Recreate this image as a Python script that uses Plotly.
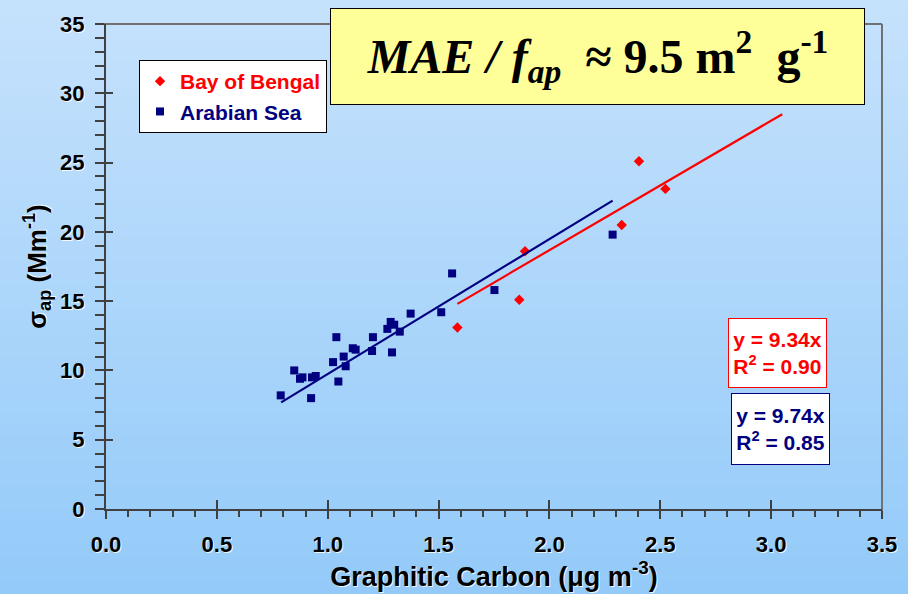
import plotly.graph_objects as go

# ---------------- data ----------------
bob_gc = [1.585, 1.864, 1.890, 2.326, 2.404, 2.523]
bob_sigma = [13.1, 15.1, 18.6, 20.5, 25.1, 23.1]

as_gc = [0.788, 0.849, 0.875, 0.886, 0.925, 0.929, 0.946, 1.024, 1.039, 1.048,
         1.072, 1.081, 1.113, 1.126, 1.200, 1.204, 1.269, 1.284, 1.300, 1.290,
         1.325, 1.374, 1.512, 1.561, 1.752, 2.285]
as_sigma = [8.2, 10.0, 9.4, 9.5, 8.0, 9.5, 9.6, 10.6, 12.4, 9.2,
            11.0, 10.3, 11.6, 11.5, 11.4, 12.4, 13.0, 13.5, 13.3, 11.3,
            12.8, 14.1, 14.2, 17.0, 15.8, 19.8]

bob_slope = 9.34
as_slope = 9.74
bob_fit_x = [1.585, 3.05]
as_fit_x = [0.79, 2.285]

x_tick_vals = [0.0, 0.5, 1.0, 1.5, 2.0, 2.5, 3.0, 3.5]
x_tick_labels = ["0.0", "0.5", "1.0", "1.5", "2.0", "2.5", "3.0", "3.5"]
y_tick_vals = [0, 5, 10, 15, 20, 25, 30, 35]
y_tick_labels = ["0", "5", "10", "15", "20", "25", "30", "35"]

bob_name = "Bay of Bengal"
as_name = "Arabian Sea"
title_text = "<b><i>MAE / f<sub>ap</sub></i>  ≈ 9.5 m<sup>2</sup>  g<sup>-1</sup></b>"
bob_eq = "<b>y = 9.34x<br>R<sup>2</sup> = 0.90</b>"
as_eq = "<b>y = 9.74x<br>R<sup>2</sup> = 0.85</b>"
x_title = "<b>Graphitic Carbon (μg m<sup>-3</sup>)</b>"
y_title = "<b>σ<sub>ap</sub> (Mm<sup>-1</sup>)</b>"

RED = "#FF0000"
NAVY = "#000080"
FONT = "Liberation Sans, Arial, sans-serif"
SHADOW = "1px 1px 0px rgba(255,255,255,0.85)"

W, H = 908, 594
L, R, T, B = 106, 26, 24, 85

fig = go.Figure()
fig.add_trace(go.Scatter(x=bob_gc, y=bob_sigma, mode="markers",
                         name="<span style='color:%s'>%s</span>" % (RED, bob_name),
                         marker=dict(symbol="diamond", size=8, color=RED)))
fig.add_trace(go.Scatter(x=as_gc, y=as_sigma, mode="markers",
                         name="<span style='color:%s'>%s</span>" % (NAVY, as_name),
                         marker=dict(symbol="square", size=8, color=NAVY)))
fig.add_trace(go.Scatter(x=bob_fit_x, y=[bob_slope * v for v in bob_fit_x], mode="lines",
                         line=dict(color=RED, width=2.2), showlegend=False))
fig.add_trace(go.Scatter(x=as_fit_x, y=[as_slope * v for v in as_fit_x], mode="lines",
                         line=dict(color=NAVY, width=2.2), showlegend=False))

# background gradient (paper-wide bands)
top_c = (198, 226, 252)
bot_c = (147, 202, 249)
pw = W - L - R
ph = H - T - B
y_lo = -B / ph - 0.01
y_hi = 1 + T / ph + 0.01
x_lo = -L / pw - 0.01
x_hi = 1 + R / pw + 0.01
nb = 100
shapes = []
for i in range(nb):
    f = i / (nb - 1)
    c = tuple(round(bot_c[k] + (top_c[k] - bot_c[k]) * f) for k in range(3))
    y0 = y_lo + (y_hi - y_lo) * i / nb
    y1 = y_lo + (y_hi - y_lo) * (i + 1) / nb + 0.002
    shapes.append(dict(type="rect", xref="paper", yref="paper", x0=x_lo, x1=x_hi,
                       y0=y0, y1=y1, line=dict(width=0),
                       fillcolor="rgb(%d,%d,%d)" % c, layer="below"))
# plot frame (top / right)
shapes.append(dict(type="line", xref="paper", yref="paper", x0=-9 / pw, x1=1, y0=1, y1=1,
                   line=dict(color="#707070", width=2), layer="below"))
shapes.append(dict(type="line", xref="paper", yref="paper", x0=1, x1=1, y0=-6 / ph, y1=1,
                   line=dict(color="#707070", width=2), layer="below"))

tickfont = dict(family=FONT, size=22, color="black", weight="bold", shadow=SHADOW)
xtitlefont = dict(family=FONT, size=27, color="black", weight="bold", shadow=SHADOW)
ytitlefont = dict(family=FONT, size=26, color="black", weight="bold", shadow=SHADOW)

fig.update_layout(
    width=W, height=H,
    margin=dict(l=L, r=R, t=T, b=B, autoexpand=False),
    paper_bgcolor="rgb(172,214,250)",
    plot_bgcolor="rgba(0,0,0,0)",
    shapes=shapes,
    showlegend=True,
    legend=dict(x=(139 - L) / pw, y=(509 - 60) / ph, xanchor="left", yanchor="top",
                bgcolor="white", bordercolor="black", borderwidth=1,
                font=dict(family=FONT, size=21, weight="bold", color="black"),
                itemwidth=30, tracegroupgap=0),
    xaxis=dict(range=[0, 3.5], tickmode="array", tickvals=x_tick_vals,
               ticktext=["<b>%s</b>" % t for t in x_tick_labels],
               showgrid=False, zeroline=False, automargin=False,
               showline=True, linecolor="#404040", linewidth=2,
               ticks="outside", ticklen=8, tickwidth=2, tickcolor="#404040",
               ticklabelstandoff=7,
               minor=dict(dtick=0.1, ticks="outside", ticklen=6, tickwidth=2, tickcolor="#404040"),
               tickfont=tickfont,
               title=dict(text=x_title, standoff=4, font=xtitlefont)),
    yaxis=dict(range=[0, 35], tickmode="array", tickvals=y_tick_vals,
               ticktext=["<b>%s</b>" % t for t in y_tick_labels],
               showgrid=False, zeroline=False, automargin=False,
               showline=True, linecolor="#404040", linewidth=2,
               ticks="outside", ticklen=9, tickwidth=2, tickcolor="#404040",
               ticklabelstandoff=6,
               minor=dict(dtick=1, ticks="outside", ticklen=9, tickwidth=2, tickcolor="#404040"),
               tickfont=tickfont,
               title=dict(text=y_title, standoff=6, font=ytitlefont)),
    xaxis2=dict(overlaying="x", matches="x", range=[0, 3.5], dtick=0.5, side="bottom",
                showgrid=False, zeroline=False, showline=False, showticklabels=False,
                ticks="inside", ticklen=9, tickwidth=2, tickcolor="#404040"),
    yaxis2=dict(overlaying="y", matches="y", range=[0, 35], dtick=5, side="left",
                showgrid=False, zeroline=False, showline=False, showticklabels=False,
                ticks="inside", ticklen=7, tickwidth=2, tickcolor="#404040"),
)
# invisible trace to anchor overlay axes
fig.add_trace(go.Scatter(x=[0], y=[0], xaxis="x2", yaxis="y2", mode="markers",
                         marker=dict(opacity=0), showlegend=False, hoverinfo="skip"))

annotations = [
    dict(text=title_text, xref="paper", yref="paper",
         x=(597.5 - L) / pw, y=(509 - 8) / ph, xanchor="center", yanchor="top",
         showarrow=False, bgcolor="#FFFF99", bordercolor="black", borderwidth=1,
         width=531, height=93, borderpad=1,
         font=dict(family="Liberation Serif, Times New Roman, serif", size=48, color="black")),
    dict(text=bob_eq, xref="paper", yref="paper",
         x=(777.5 - L) / pw, y=(509 - 318) / ph, xanchor="center", yanchor="top",
         showarrow=False, bgcolor="white", bordercolor=RED, borderwidth=1,
         width=95, height=66, borderpad=1, align="center",
         font=dict(family=FONT, size=21, color=RED)),
    dict(text=as_eq, xref="paper", yref="paper",
         x=(780 - L) / pw, y=(509 - 393) / ph, xanchor="center", yanchor="top",
         showarrow=False, bgcolor="white", bordercolor=NAVY, borderwidth=1,
         width=95, height=68, borderpad=1, align="center",
         font=dict(family=FONT, size=21, color=NAVY)),
]
fig.update_layout(annotations=annotations)

fig.write_html("out.html", config={"displayModeBar": False},
               post_script="document.body.style.margin='0px';")
